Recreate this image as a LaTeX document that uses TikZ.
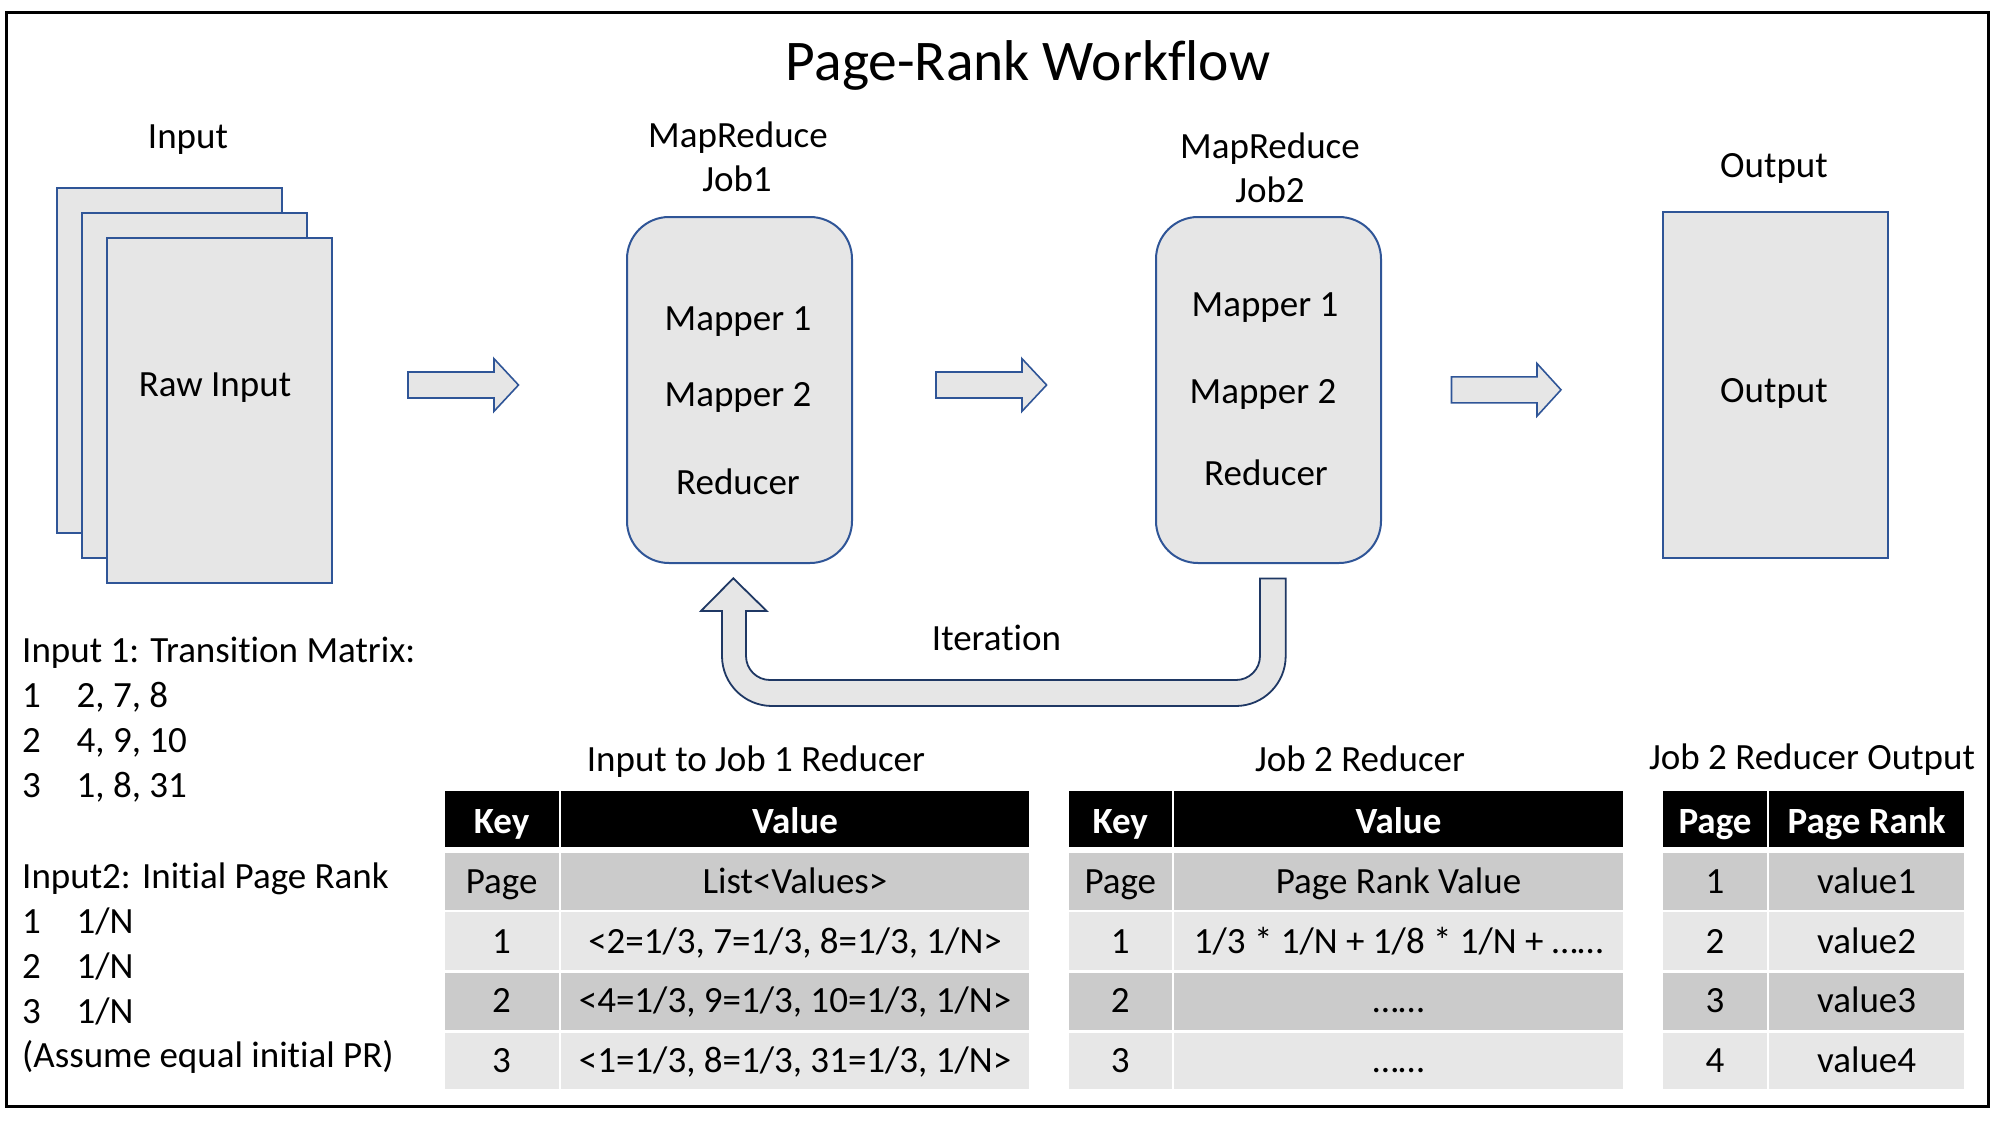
\documentclass[tikz,border=0pt]{standalone}
\usepackage{fontspec}
\setmainfont{Carlito}[Ligatures=NoCommon]
\definecolor{boxfill}{HTML}{E6E6E6}
\definecolor{boxline}{HTML}{2F5597}
\definecolor{darkline}{HTML}{1F3864}
\definecolor{rowdark}{HTML}{CBCBCB}
\definecolor{rowlight}{HTML}{E7E7E7}
\newcommand\blockarr[4]{%
  \draw[barrow] ({#1},{#4-13}) -- ({#2},{#4-13}) -- ({#2},{#4-26.3}) -- ({#3},{#4})
    -- ({#2},{#4+26.3}) -- ({#2},{#4+13}) -- ({#1},{#4+13}) -- cycle;}
\newcommand\tablebg[4]{%
  \foreach \ya/\yb/\cc in {791/847/black, 853/909.5/rowdark, 911.8/970.2/rowlight,
                           972.5/1030.3/rowdark, 1032.6/1089/rowlight}{%
    \fill[\cc] (#1,\ya) rectangle (#2,\yb);
    \fill[\cc] (#3,\ya) rectangle (#4,\yb);
  }}
\begin{document}
\begin{tikzpicture}[x=1pt,y=-1pt,
  txt/.style={font=\fontsize{37}{44}\selectfont, inner sep=0pt, anchor=base},
  hdr/.style={txt, text=white, font=\fontsize{37}{44}\selectfont\bfseries},
  lft/.style={txt, anchor=base west},
  sheet/.style={draw=boxline, fill=boxfill, line width=2pt, minimum width=225pt,
                minimum height=345pt, inner sep=0pt},
  jobbox/.style={sheet, rounded corners=42pt, minimum height=346pt},
  barrow/.style={draw=boxline, fill=boxfill, line width=1.6pt, line join=miter},
  uturn/.style={draw=darkline, fill=boxfill, line width=1.8pt}]
\useasboundingbox (0,0) rectangle (2000,1125);
\draw[line width=3pt] (6.5,12.5) rectangle (1988,1106);

% title
\node[txt, font=\fontsize{57.5}{69}\selectfont] (title) at (1028,80) {Page-Rank Workflow};

% input stack
\node[sheet] (in1) at (169.5,360.5) {};
\node[sheet] (in2) at (194.5,385) {};
\node[sheet, minimum width=225.5pt, minimum height=344.5pt] (in3) at (219.25,410.25) {};
\node[txt] (rawin) at (215,396) {Raw Input};
\node[txt] (inlbl) at (188,148) {Input};

% job boxes
\node[jobbox] (job1) at (739.5,390) {};
\node[jobbox] (job2) at (1268.5,390) {};
\node[txt] (j1a) at (738,147) {MapReduce};
\node[txt] (j1b) at (737,191) {Job1};
\node[txt] (j2a) at (1270,158) {MapReduce};
\node[txt] (j2b) at (1270,202) {Job2};
\node[txt] (j1m1) at (738,330) {Mapper 1};
\node[txt] (j1m2) at (738,406) {Mapper 2};
\node[txt] (j1r) at (738,494) {Reducer};
\node[txt] (j2m1) at (1265,316) {Mapper 1};
\node[txt] (j2m2) at (1263,403) {Mapper 2};
\node[txt] (j2r) at (1266,485) {Reducer};

% output
\node[sheet, minimum width=225.4pt, minimum height=345.6pt] (out) at (1775.3,385.2) {};
\node[txt] (outin) at (1774,402) {Output};
\node[txt] (outlbl) at (1774,177) {Output};

% block arrows
\blockarr{408}{494}{518.5}{385}
\blockarr{936}{1022}{1046.6}{385}
\blockarr{1451.5}{1537}{1561}{389.8}

% iteration U-turn arrow
\draw[uturn] (1260,578.5) -- (1260,656) arc[start angle=0,end angle=-90,radius=24pt]
  -- (770,680) arc[start angle=-90,end angle=-180,radius=24pt]
  -- (746,611) -- (766.7,611) -- (733.3,578.3) -- (701,611) -- (722,611)
  -- (722,656) arc[start angle=180,end angle=270,radius=50pt]
  -- (1235.7,706) arc[start angle=270,end angle=360,radius=50pt]
  -- (1285.7,578.5) -- cycle;
\node[txt] (iter) at (996.5,650) {Iteration};

% left text
\node[lft] (t1) at (22,662.7) {Input 1: Transition Matrix:};
\node[lft] (t2) at (22,707.7) {\makebox[54.5pt][l]{1}2, 7, 8};
\node[lft] (t3) at (22,752.8) {\makebox[54.5pt][l]{2}4, 9, 10};
\node[lft] (t4) at (22,797.8) {\makebox[54.5pt][l]{3}1, 8, 31};
\node[lft] (t5) at (22,888) {Input2: Initial Page Rank};
\node[lft] (t6) at (22,933) {\makebox[54.5pt][l]{1}1/N};
\node[lft] (t7) at (22,978) {\makebox[54.5pt][l]{2}1/N};
\node[lft] (t8) at (22,1023) {\makebox[54.5pt][l]{3}1/N};
\node[lft] (t9) at (22,1067) {(Assume equal initial PR)};

% table 1
\node[txt] (tt1) at (756,771) {Input to Job 1 Reducer};
\tablebg{444.5}{558.8}{561.2}{1028.7}
\node[hdr] (a00) at (501.6,833) {Key};
\node[hdr] (a01) at (795,833) {Value};
\node[txt] (a10) at (501.6,893) {Page};
\node[txt] (a11) at (795,893) {List<Values>};
\node[txt] (a20) at (501.6,953) {1};
\node[txt] (a21) at (795,953) {<2=1/3, 7=1/3, 8=1/3, 1/N>};
\node[txt] (a30) at (501.6,1012.5) {2};
\node[txt] (a31) at (795,1012.5) {<4=1/3, 9=1/3, 10=1/3, 1/N>};
\node[txt] (a40) at (501.6,1072) {3};
\node[txt] (a41) at (795,1072) {<1=1/3, 8=1/3, 31=1/3, 1/N>};

% table 2
\node[txt] (tt2) at (1360,771) {Job 2 Reducer};
\tablebg{1069}{1171.6}{1174}{1623}
\node[hdr] (b00) at (1120.3,833) {Key};
\node[hdr] (b01) at (1398.5,833) {Value};
\node[txt] (b10) at (1120.3,893) {Page};
\node[txt] (b11) at (1398.5,893) {Page Rank Value};
\node[txt] (b20) at (1120.3,953) {1};
\node[txt] (b21) at (1398.5,953) {1/3 * 1/N + 1/8 * 1/N + ……};
\node[txt] (b30) at (1120.3,1012.5) {2};
\node[txt] (b31) at (1398.5,1012.5) {……};
\node[txt] (b40) at (1120.3,1072) {3};
\node[txt] (b41) at (1398.5,1072) {……};

% table 3
\node[txt] (tt3) at (1812,769) {Job 2 Reducer Output};
\tablebg{1663}{1766.8}{1769.2}{1964}
\node[hdr] (c00) at (1715,833) {Page};
\node[hdr] (c01) at (1866.6,833) {Page Rank};
\node[txt] (c10) at (1715,893) {1};
\node[txt] (c11) at (1866.6,893) {value1};
\node[txt] (c20) at (1715,953) {2};
\node[txt] (c21) at (1866.6,953) {value2};
\node[txt] (c30) at (1715,1012.5) {3};
\node[txt] (c31) at (1866.6,1012.5) {value3};
\node[txt] (c40) at (1715,1072) {4};
\node[txt] (c41) at (1866.6,1072) {value4};
\end{tikzpicture}
\end{document}
